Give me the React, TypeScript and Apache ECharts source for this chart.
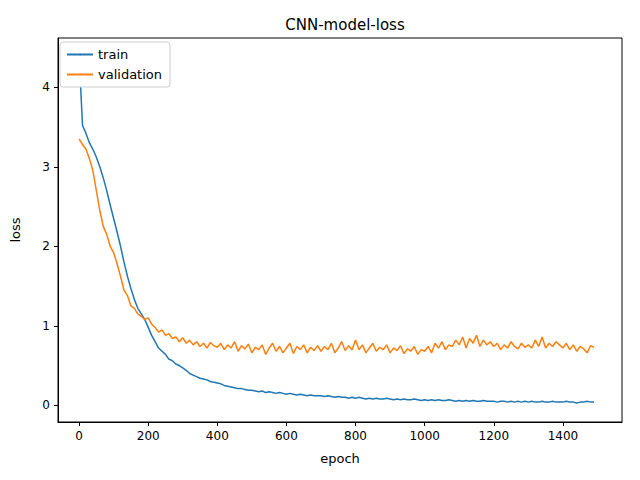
import { useEffect, useRef } from 'react'
import * as echarts from 'echarts'

const step = 10
const trainLoss = [
  4.4, 3.52, 3.42, 3.3, 3.22, 3.12, 3.0, 2.86, 2.7, 2.52,
  2.35, 2.18, 2.0, 1.8, 1.62, 1.47, 1.33, 1.22, 1.15, 1.08,
  0.98, 0.88, 0.8, 0.72, 0.68, 0.64, 0.58, 0.56, 0.52, 0.5,
  0.47, 0.44, 0.4, 0.38, 0.36, 0.34, 0.33, 0.32, 0.3, 0.29,
  0.28, 0.27, 0.25, 0.24, 0.23, 0.22, 0.21, 0.21, 0.2, 0.19,
  0.19, 0.18, 0.17, 0.18, 0.16, 0.17, 0.16, 0.15, 0.16, 0.15,
  0.14, 0.15, 0.14, 0.13, 0.14, 0.13, 0.12, 0.13, 0.12, 0.12,
  0.12, 0.11, 0.12, 0.11, 0.1, 0.11, 0.1, 0.1, 0.09, 0.1,
  0.09, 0.1, 0.09, 0.08, 0.09, 0.08, 0.09, 0.08, 0.08, 0.09,
  0.08, 0.07, 0.08, 0.07, 0.08, 0.07, 0.07, 0.08, 0.07, 0.06,
  0.07, 0.06, 0.07, 0.06, 0.07, 0.06, 0.06, 0.07, 0.06, 0.05,
  0.06, 0.05, 0.06, 0.05, 0.06, 0.05, 0.05, 0.06, 0.05, 0.05,
  0.05, 0.04, 0.05, 0.05, 0.04, 0.05, 0.04, 0.05, 0.04, 0.05,
  0.04, 0.05, 0.04, 0.04, 0.05, 0.04, 0.04, 0.05, 0.04, 0.04,
  0.04, 0.05, 0.04, 0.04, 0.03, 0.04, 0.04, 0.05, 0.04, 0.04,
]
const valLoss = [
  3.35, 3.28, 3.22, 3.1, 2.95, 2.7, 2.45, 2.25, 2.15, 2.0,
  1.92, 1.78, 1.62, 1.45, 1.38, 1.25, 1.22, 1.15, 1.12, 1.08,
  1.1, 1.02, 0.98, 0.92, 0.95, 0.88, 0.9, 0.84, 0.86, 0.8,
  0.85, 0.78, 0.82, 0.76, 0.8, 0.74, 0.78, 0.72, 0.79, 0.75,
  0.73, 0.78, 0.7, 0.76, 0.72, 0.8, 0.68, 0.75, 0.71, 0.77,
  0.66, 0.73, 0.7, 0.76, 0.64, 0.72, 0.78, 0.68, 0.74, 0.66,
  0.72, 0.78, 0.65, 0.74, 0.7, 0.76, 0.66, 0.73, 0.69, 0.75,
  0.68, 0.74, 0.7, 0.78, 0.66, 0.72, 0.8, 0.69, 0.75, 0.7,
  0.82, 0.7, 0.76, 0.66, 0.72, 0.78, 0.68, 0.73, 0.7, 0.76,
  0.66, 0.72, 0.69, 0.75, 0.65, 0.71, 0.68, 0.74, 0.64, 0.7,
  0.68, 0.74, 0.66, 0.78, 0.72, 0.8, 0.7, 0.76, 0.74, 0.82,
  0.76, 0.86, 0.72, 0.84, 0.78, 0.88, 0.74, 0.82, 0.76, 0.8,
  0.74, 0.78, 0.7, 0.76, 0.72, 0.8, 0.74, 0.71, 0.78, 0.73,
  0.76, 0.72, 0.82, 0.74, 0.86, 0.72, 0.78, 0.74, 0.8, 0.76,
  0.72, 0.78, 0.7, 0.76, 0.68, 0.74, 0.71, 0.66, 0.75, 0.73,
]
const xTicks = [0, 200, 400, 600, 800, 1000, 1200, 1400]
const yTicks = [0, 1, 2, 3, 4]

const font = 'DejaVu Sans'

export default function App() {
  const main = useRef(null)
  useEffect(() => {
    const chart = echarts.init(main.current, null, { renderer: 'svg' })
    const pairs = (arr: number[]) => arr.map((v, i) => [i * step, v])
    chart.setOption({
      animation: false,
      textStyle: { fontFamily: font },
      title: {
        text: 'CNN-model-loss',
        left: 340,
        top: 12,
        textAlign: 'center',
        textStyle: { fontFamily: font, fontSize: 15, fontWeight: 'normal', color: '#000' },
      },
      legend: {
        orient: 'vertical',
        left: 60,
        top: 42,
        padding: [6, 8, 6, 6],
        itemGap: 7,
        itemWidth: 26,
        itemHeight: 2,
        backgroundColor: '#fff',
        borderColor: '#ccc',
        borderWidth: 1,
        borderRadius: 3,
        textStyle: { fontFamily: font, fontSize: 13, color: '#000' },
        data: ['train', 'validation'],
      },
      grid: { left: 58, right: 18, top: 38, bottom: 58, show: true, borderColor: '#000', borderWidth: 1 },
      xAxis: {
        type: 'value',
        min: -61,
        max: 1571,
        name: 'epoch',
        nameLocation: 'middle',
        nameGap: 30,
        nameTextStyle: { fontFamily: font, fontSize: 13, color: '#000' },
        splitLine: { show: false },
        axisLine: { onZero: false, lineStyle: { color: '#000' } },
        axisTick: { show: true, length: 4, customValues: xTicks, lineStyle: { color: '#000' } },
        axisLabel: { customValues: xTicks, formatter: (v: number) => String(v), fontFamily: font, fontSize: 12, color: '#000', margin: 8 },
      },
      yAxis: {
        type: 'value',
        min: -0.21,
        max: 4.62,
        name: 'loss',
        nameLocation: 'middle',
        nameGap: 36,
        nameTextStyle: { fontFamily: font, fontSize: 13, color: '#000' },
        splitLine: { show: false },
        axisLine: { show: true, onZero: false, lineStyle: { color: '#000' } },
        axisTick: { show: true, length: 4, customValues: yTicks, lineStyle: { color: '#000' } },
        axisLabel: { customValues: yTicks, fontFamily: font, fontSize: 12, color: '#000', margin: 8 },
      },
      series: [
        {
          name: 'train',
          type: 'line',
          data: pairs(trainLoss),
          symbol: 'none',
          itemStyle: { color: '#1f77b4' },
          lineStyle: { color: '#1f77b4', width: 1.5 },
        },
        {
          name: 'validation',
          type: 'line',
          data: pairs(valLoss),
          symbol: 'none',
          itemStyle: { color: '#ff7f0e' },
          lineStyle: { color: '#ff7f0e', width: 1.5 },
        },
      ],
    })
    return () => chart.dispose()
  }, [])
  return <div ref={main} style={{ width: 640, height: 480, margin: -8 }}></div>
}
